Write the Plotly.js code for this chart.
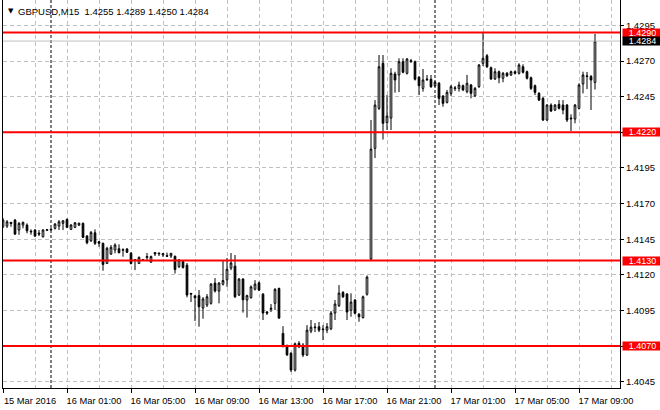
<!DOCTYPE html>
<html><head><meta charset="utf-8">
<script src="https://cdn.plot.ly/plotly-3.0.1.min.js"></script>
<style>html,body{margin:0;padding:0;background:#fff}#chart{width:660px;height:410px}</style>
</head><body><div id="chart"></div>
<script>
const symbol = "GBPUSD";
const period = "M15";

const open = [1.41537,1.41542,1.41568,1.41584,1.41514,1.41549,1.41549,1.41500,1.41514,1.41493,
1.41467,1.41512,1.41521,1.41526,1.41542,1.41561,1.41589,1.41519,1.41533,1.41549,
1.41561,1.41472,1.41439,1.41495,1.41432,1.41421,1.41280,1.41346,1.41374,1.41383,
1.41372,1.41381,1.41351,1.41306,1.41280,1.41302,1.41321,1.41290,1.41346,1.41353,
1.41339,1.41335,1.41332,1.41330,1.41257,1.41293,1.41268,1.41070,1.41052,1.41054,
1.40967,1.40988,1.41000,1.41142,1.41086,1.41134,1.41165,1.41247,1.41261,1.41058,
1.41170,1.41023,1.41040,1.41099,1.41144,1.41064,1.40939,1.40958,1.41000,1.41104,
1.40789,1.40704,1.40649,1.40532,1.40719,1.40707,1.40637,1.40805,1.40829,1.40836,
1.40815,1.40812,1.40821,1.40932,1.40984,1.41076,1.41065,1.40951,1.41023,1.40923,
1.40900,1.41064,1.41311,1.42087,1.42368,1.42684,1.42268,1.42300,1.42609,1.42602,
1.42695,1.42614,1.42698,1.42695,1.42586,1.42508,1.42574,1.42572,1.42527,1.42544,
1.42454,1.42410,1.42473,1.42506,1.42508,1.42527,1.42485,1.42532,1.42456,1.42520,
1.42684,1.42737,1.42653,1.42574,1.42625,1.42579,1.42614,1.42602,1.42625,1.42614,
1.42660,1.42625,1.42583,1.42527,1.42473,1.42438,1.42286,1.42391,1.42356,1.42396,
1.42391,1.42391,1.42300,1.42293,1.42368,1.42539,1.42591,1.42591,1.42550];

const high = [1.41598,1.41584,1.41570,1.41591,1.41570,1.41574,1.41561,1.41519,1.41521,1.41514,
1.41521,1.41521,1.41525,1.41563,1.41584,1.41584,1.41595,1.41556,1.41570,1.41567,
1.41567,1.41479,1.41507,1.41519,1.41437,1.41426,1.41397,1.41409,1.41421,1.41414,
1.41386,1.41388,1.41360,1.41311,1.41328,1.41311,1.41353,1.41335,1.41360,1.41355,
1.41353,1.41356,1.41353,1.41335,1.41311,1.41300,1.41283,1.41072,1.41058,1.41093,
1.41044,1.41065,1.41142,1.41177,1.41149,1.41300,1.41318,1.41353,1.41339,1.41177,
1.41177,1.41061,1.41125,1.41163,1.41153,1.41072,1.40946,1.40995,1.41107,1.41111,
1.40840,1.40711,1.40658,1.40725,1.40735,1.40721,1.40847,1.40883,1.40862,1.40869,
1.40847,1.40862,1.40946,1.41023,1.41128,1.41086,1.41072,1.41070,1.41030,1.40932,
1.41054,1.41195,1.42286,1.42426,1.42742,1.42742,1.42461,1.42649,1.42625,1.42719,
1.42719,1.42721,1.42714,1.42703,1.42595,1.42644,1.42602,1.42602,1.42560,1.42553,
1.42461,1.42497,1.42532,1.42525,1.42555,1.42535,1.42602,1.42539,1.42518,1.42679,
1.42900,1.42749,1.42661,1.42649,1.42633,1.42623,1.42623,1.42633,1.42633,1.42684,
1.42677,1.42633,1.42591,1.42535,1.42482,1.42447,1.42398,1.42403,1.42398,1.42426,
1.42426,1.42398,1.42326,1.42398,1.42544,1.42625,1.42623,1.42602,1.42890];

const low = [1.41528,1.41528,1.41537,1.41479,1.41481,1.41526,1.41491,1.41481,1.41465,1.41472,
1.41461,1.41507,1.41514,1.41518,1.41514,1.41514,1.41528,1.41514,1.41528,1.41542,
1.41458,1.41414,1.41430,1.41409,1.41397,1.41229,1.41276,1.41339,1.41351,1.41351,
1.41327,1.41353,1.41273,1.41233,1.41276,1.41297,1.41304,1.41283,1.41332,1.41332,
1.41325,1.41327,1.41318,1.41209,1.41247,1.41244,1.41042,1.41009,1.40876,1.40836,
1.40892,1.40974,1.40991,1.41076,1.41000,1.41125,1.41116,1.41233,1.41037,1.41051,
1.40935,1.40900,1.41033,1.41090,1.41086,1.40883,1.40918,1.40939,1.40953,1.40890,
1.40690,1.40630,1.40518,1.40521,1.40686,1.40623,1.40630,1.40791,1.40798,1.40798,
1.40742,1.40791,1.40812,1.40883,1.40974,1.41037,1.40883,1.40906,1.40921,1.40871,
1.40893,1.41054,1.41304,1.42019,1.42356,1.42149,1.42216,1.42216,1.42478,1.42482,
1.42614,1.42605,1.42686,1.42563,1.42461,1.42485,1.42560,1.42511,1.42518,1.42391,
1.42379,1.42402,1.42454,1.42489,1.42485,1.42489,1.42473,1.42438,1.42447,1.42511,
1.42665,1.42651,1.42567,1.42567,1.42544,1.42551,1.42588,1.42595,1.42605,1.42605,
1.42612,1.42570,1.42497,1.42461,1.42419,1.42279,1.42279,1.42342,1.42349,1.42360,
1.42326,1.42272,1.42209,1.42263,1.42360,1.42473,1.42503,1.42356,1.42500];

const close = [1.41584,1.41572,1.41560,1.41486,1.41561,1.41568,1.41509,1.41505,1.41472,1.41486,
1.41514,1.41516,1.41516,1.41556,1.41572,1.41579,1.41533,1.41549,1.41565,1.41561,
1.41463,1.41425,1.41498,1.41421,1.41421,1.41273,1.41386,1.41393,1.41409,1.41355,
1.41376,1.41358,1.41280,1.41302,1.41323,1.41306,1.41328,1.41328,1.41356,1.41348,
1.41349,1.41330,1.41351,1.41237,1.41304,1.41251,1.41058,1.41065,1.41039,1.40976,
1.41031,1.41046,1.41135,1.41086,1.41142,1.41160,1.41239,1.41283,1.41046,1.41170,
1.41025,1.41054,1.41116,1.41135,1.41093,1.40932,1.40932,1.40965,1.41098,1.40897,
1.40700,1.40639,1.40532,1.40716,1.40695,1.40637,1.40812,1.40833,1.40833,1.40812,
1.40819,1.40836,1.40932,1.40995,1.41072,1.41046,1.40939,1.41009,1.40930,1.40906,
1.41046,1.41184,1.42082,1.42391,1.42660,1.42263,1.42314,1.42614,1.42567,1.42695,
1.42621,1.42714,1.42702,1.42572,1.42527,1.42567,1.42569,1.42520,1.42551,1.42438,
1.42403,1.42480,1.42520,1.42511,1.42532,1.42497,1.42544,1.42473,1.42508,1.42672,
1.42719,1.42660,1.42574,1.42625,1.42583,1.42614,1.42597,1.42625,1.42614,1.42672,
1.42621,1.42579,1.42508,1.42480,1.42426,1.42286,1.42391,1.42349,1.42391,1.42368,
1.42356,1.42286,1.42295,1.42391,1.42532,1.42602,1.42595,1.42567,1.42840];

const tickBars = [0,16,32,48,64,80,96,112,128,144];
const tickLabels = ["15 Mar 2016","16 Mar 01:00","16 Mar 05:00","16 Mar 09:00","16 Mar 13:00",
                    "16 Mar 17:00","16 Mar 21:00","17 Mar 01:00","17 Mar 05:00","17 Mar 09:00"];
const gridBars = [8,24,40,56,72,88,104,120,136,152];
const daySeparators = [12,108];
const levels = [1.4290,1.4220,1.4130,1.4070];
const priceTicks = [1.4045,1.4070,1.4095,1.4120,1.4145,1.4170,1.4195,1.4220,1.4245,1.4270,1.4295];

const bars = open.map((_, i) => i);
const last = close.length - 1;
const FONT = 'Liberation Sans, Arial, sans-serif';
const GRID = '#C0C0C0';
// tick labels that sit under a level label box are hidden by that box
const priceTickText = priceTicks.map(v => levels.indexOf(v) >= 0 ? '' : v.toFixed(4));

const trace = {
  type: 'candlestick', x: bars, open: open, high: high, low: low, close: close,
  increasing: {line: {color: '#000', width: 1}, fillcolor: '#FFFFFF'},
  decreasing: {line: {color: '#000', width: 1}, fillcolor: '#000000'},
  whiskerwidth: 0, hoverinfo: 'skip', showlegend: false
};

const shapes = [];
daySeparators.forEach(b => shapes.push({type:'line', xref:'x', yref:'paper', x0:b, x1:b, y0:0, y1:1,
  line:{color:'#000', width:1, dash:'3px,2px'}, layer:'above'}));
shapes.push({type:'line', xref:'paper', yref:'y', x0:0, x1:1, y0:close[last], y1:close[last],
  line:{color:GRID, width:1}, layer:'above'});
levels.forEach(v => shapes.push({type:'line', xref:'paper', yref:'y', x0:0, x1:1, y0:v, y1:v,
  line:{color:'#FF0000', width:2}, layer:'above'}));

const annotations = [];
annotations.push({xref:'paper', yref:'paper', x:0, y:1, xanchor:'left', yanchor:'middle', xshift:3, yshift:-11,
  text:'\u25BC', showarrow:false, font:{family:'DejaVu Sans', size:7, color:'#000'}});
annotations.push({xref:'paper', yref:'paper', x:0, y:1, xanchor:'left', yanchor:'middle', xshift:13, yshift:-11,
  text: symbol + ',' + period + '\u00a0\u00a0' + [open[last], high[last], low[last], close[last]].map(v => v.toFixed(4)).join(' '),
  showarrow:false, font:{family:FONT, size:9.5, color:'#000'}});
levels.forEach(v => annotations.push({xref:'paper', yref:'y', x:1, y:v, xanchor:'left', yanchor:'middle', xshift:2,
  text:v.toFixed(4), showarrow:false, bgcolor:'#FF0000', borderpad:0, width:39, height:8, align:'center',
  font:{family:FONT, size:9, color:'#FFFFFF'}}));
annotations.push({xref:'paper', yref:'y', x:1, y:close[last], xanchor:'left', yanchor:'middle', xshift:2,
  text:close[last].toFixed(4), showarrow:false, bgcolor:'#000000', borderpad:0, width:39, height:8, align:'center',
  font:{family:FONT, size:9, color:'#FFFFFF'}});

const layout = {
  width: 660, height: 410,
  margin: {l:3, r:40, t:0, b:22, pad:0},
  paper_bgcolor:'#FFFFFF', plot_bgcolor:'#FFFFFF',
  showlegend:false, boxgap:0.4,
  xaxis: {
    range:[0, 154.25], tickmode:'array', tickvals:tickBars, ticktext:tickLabels,
    ticks:'outside', ticklen:4, tickcolor:'#000', tickwidth:1,
    showgrid:true, gridcolor:GRID, griddash:'4px,3px', gridwidth:1,
    showline:true, linecolor:'#000', linewidth:1, zeroline:false,
    ticklabelshift:27, tickfont:{family:FONT, size:9.3, color:'#000'},
    rangeslider:{visible:false}, fixedrange:true,
    minor:{tickmode:'array', tickvals:gridBars, showgrid:true, gridcolor:GRID, griddash:'4px,3px', gridwidth:1, ticks:''}
  },
  yaxis: {
    side:'right', range:[1.40406, 1.43128], tickmode:'array', tickvals:priceTicks, ticktext:priceTickText,
    ticks:'outside', ticklen:3, tickcolor:'#000', tickwidth:1,
    showgrid:true, gridcolor:GRID, griddash:'4px,3px', gridwidth:1,
    showline:true, linecolor:'#000', linewidth:1, mirror:true, zeroline:false,
    tickfont:{family:FONT, size:9.5, color:'#000'}, fixedrange:true
  },
  shapes: shapes, annotations: annotations
};

Plotly.newPlot('chart', [trace], layout, {staticPlot:true, displayModeBar:false});
</script></body></html>
